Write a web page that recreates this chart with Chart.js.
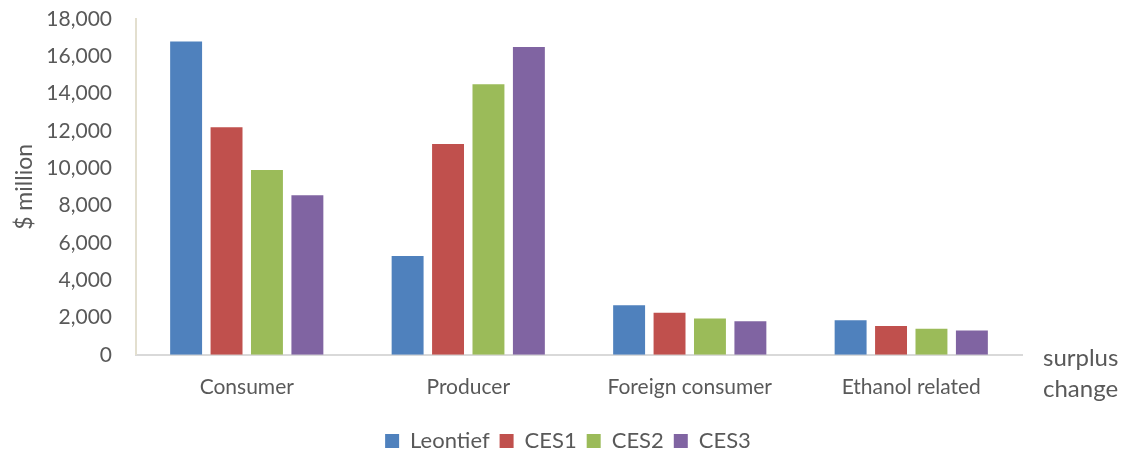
<!DOCTYPE html>
<html>
<head>
<meta charset="utf-8">
<script src="https://cdn.jsdelivr.net/npm/chart.js@4/dist/chart.umd.min.js"></script>
<style>
  html, body { margin: 0; padding: 0; background: #fff; }
  #wrap { width: 1125px; height: 455px; }
</style>
</head>
<body>
<div id="wrap"><canvas id="surplusChart"></canvas></div>
<script>
// Surplus change by model, $ million
const categories = ['Consumer', 'Producer', 'Foreign consumer', 'Ethanol related'];
const leontief = [16800, 5300, 2650, 1850];
const ces1 = [12200, 11300, 2250, 1550];
const ces2 = [9900, 14500, 1950, 1400];
const ces3 = [8550, 16500, 1800, 1300];
const yTicks = [0, 2000, 4000, 6000, 8000, 10000, 12000, 14000, 16000, 18000];

const textColor = '#595959';
const fontFamily = 'Lato, "Open Sans", sans-serif';

// "surplus change" note sitting past the right end of the x axis
const axisNote = {
    id: 'axisNote',
    afterDraw(chart) {
        const ctx = chart.ctx;
        const area = chart.chartArea;
        ctx.save();
        ctx.fillStyle = textColor;
        ctx.font = '24px ' + fontFamily;
        ctx.textAlign = 'left';
        ctx.textBaseline = 'middle';
        ctx.fillText('surplus', area.right + 21, area.bottom + 3);
        ctx.fillText('change', area.right + 21, area.bottom + 34);
        ctx.restore();
    }
};

function series(label, data, color) {
    return {
        label: label,
        data: data,
        backgroundColor: color,
        borderColor: color,
        borderWidth: 0,
        categoryPercentage: 0.73,
        barPercentage: 0.79
    };
}

new Chart(document.getElementById('surplusChart'), {
    type: 'bar',
    data: {
        labels: categories,
        datasets: [
            series('Leontief', leontief, '#4F81BD'),
            series('CES1', ces1, '#C0504D'),
            series('CES2', ces2, '#9BBB59'),
            series('CES3', ces3, '#8064A2')
        ]
    },
    options: {
        responsive: true,
        maintainAspectRatio: false,
        animation: false,
        layout: { padding: { left: 11, top: 0, right: 0, bottom: -7 } },
        plugins: {
            legend: {
                position: 'bottom',
                labels: {
                    boxWidth: 14,
                    boxHeight: 14,
                    padding: 10,
                    color: textColor,
                    font: { size: 22, family: fontFamily }
                }
            },
            tooltip: { enabled: false }
        },
        scales: {
            x: {
                // leave room on the right for the "surplus change" note
                afterFit(axis) {
                    axis.paddingRight = 103;
                },
                grid: { display: false, drawTicks: false },
                border: { color: '#D9D9D9', width: 2 },
                ticks: {
                    color: textColor,
                    padding: 20,
                    font: { size: 21, family: fontFamily }
                }
            },
            y: {
                min: 0,
                max: 18000,
                afterBuildTicks(axis) {
                    axis.ticks = yTicks.map(v => ({ value: v }));
                },
                afterFit(axis) {
                    axis.width = 125;
                    axis.paddingTop = 19;
                },
                grid: { display: false, drawTicks: false },
                border: { color: '#E3DFCF', width: 2 },
                title: {
                    display: true,
                    text: '$ million',
                    color: textColor,
                    font: { size: 23, family: fontFamily },
                    padding: { top: 0, bottom: 4 }
                },
                ticks: {
                    color: textColor,
                    padding: 24,
                    font: { size: 21, family: fontFamily },
                    callback: v => v.toLocaleString('en-US')
                }
            }
        }
    },
    plugins: [axisNote]
});
</script>
</body>
</html>
